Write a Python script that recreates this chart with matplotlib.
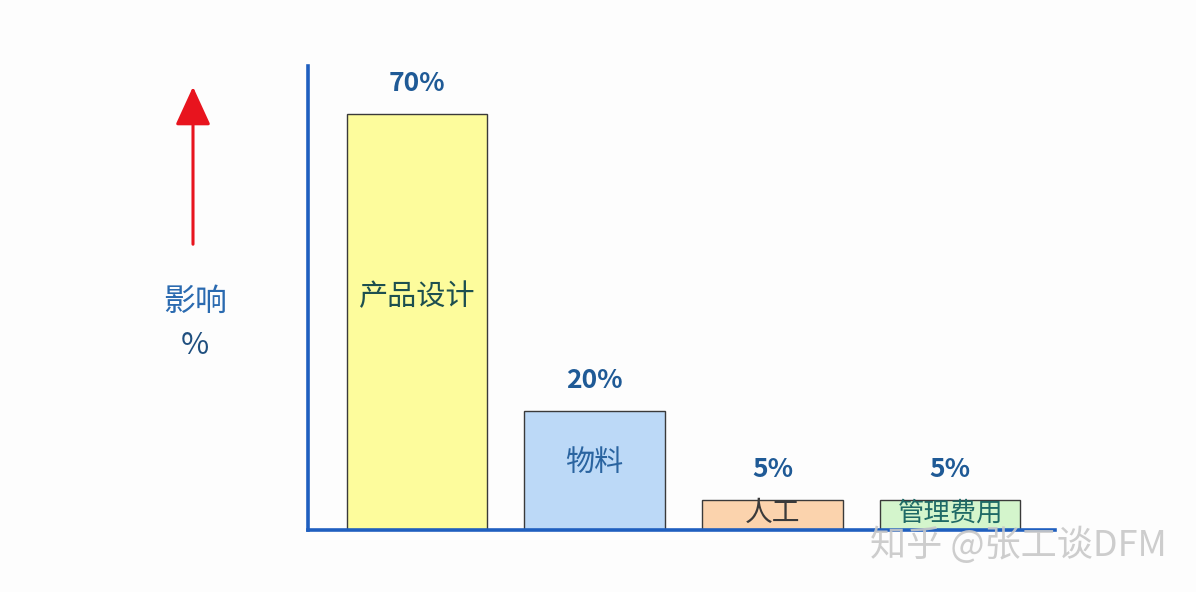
import matplotlib.pyplot as plt

plt.rcParams['font.family'] = ['Noto Sans CJK SC', 'DejaVu Sans']

# data
categories = ['产品设计', '物料', '人工', '管理费用']
values = [70, 20, 5, 5]
value_labels = ['70%', '20%', '5%', '5%']
fill_colors = ['#fdfc9c', '#bcd9f7', '#fbd3ad', '#d4f5cc']
text_colors = ['#1d4f4f', '#2a64a0', '#3a3a3a', '#1f6a66']
text_sizes = [21, 21, 20, 19]

fig = plt.figure(figsize=(11.96, 5.92), dpi=100)
fig.patch.set_facecolor('#fdfdfd')

# axes placed to match the pixel geometry of the reference
ax = fig.add_axes([308 / 1196, 62 / 592, (1055 - 308) / 1196, (530 - 66) / 592])
ax.set_facecolor('none')

x = range(len(categories))
ax.bar(x, values, width=0.79, color=fill_colors, edgecolor='#3a3a3a', linewidth=1.0, zorder=2)

for i, v in enumerate(values):
    ax.annotate(value_labels[i], xy=(i, v), xytext=(0, 22), textcoords='offset points',
                ha='center', va='center', fontsize=19, fontweight='bold', color='#1f5a96')
    ax.text(i, v * 0.56, categories[i], ha='center', va='center',
            fontsize=text_sizes[i], color=text_colors[i], zorder=3)

ax.set_xlim(-0.613, 3.59)
ax.set_ylim(0, 78)
ax.set_xticks([])
ax.set_yticks([])
for side in ['top', 'right']:
    ax.spines[side].set_visible(False)
for side in ['left', 'bottom']:
    ax.spines[side].set_color('#1f5fbf')
    ax.spines[side].set_linewidth(2.6)

# red arrow and y label, outside the axes
fig.add_artist(plt.Annotation('', xy=(193, 592 - 84), xytext=(193, 592 - 247),
                              xycoords='figure pixels', textcoords='figure pixels',
                              arrowprops=dict(arrowstyle='-|>,head_width=0.55,head_length=1.2',
                                              mutation_scale=20, color='#e8141e', lw=2.2)))
fig.text(195 / 1196, 1 - 302 / 592, '影响', ha='center', va='center', fontsize=23, color='#2a6ab0')
fig.text(195 / 1196, 1 - 345 / 592, '%', ha='center', va='center', fontsize=22, color='#1f4f7f')

# watermark
fig.text(1018 / 1196, 1 - 545 / 592, '知乎 @张工谈DFM', ha='center', va='center',
         fontsize=26, color='#c8c8c8', alpha=0.9)

fig.savefig('out.png', dpi=100, facecolor=fig.get_facecolor())
